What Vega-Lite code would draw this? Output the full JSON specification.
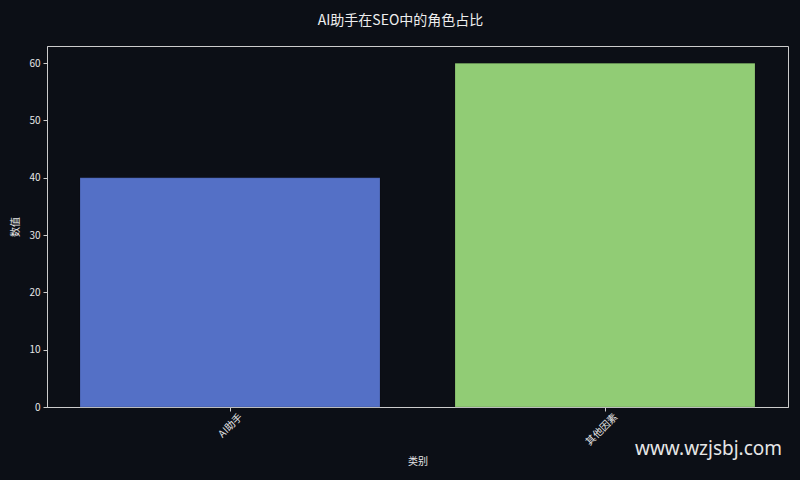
{
  "$schema": "https://vega.github.io/schema/vega-lite/v6.json",
  "autosize": {"type": "none"},
  "padding": {"left": 47, "top": 46, "right": 12, "bottom": 73},
  "width": 741,
  "height": 361,
  "background": "#0c0f16",
  "title": {
    "text": "AI助手在SEO中的角色占比",
    "anchor": "middle",
    "dx": -17,
    "offset": 18,
    "font": "Noto Sans CJK SC",
    "fontSize": 14,
    "fontWeight": "normal",
    "color": "#eeeeee"
  },
  "config": {
    "font": "Noto Sans CJK SC",
    "view": {"stroke": "#cccccc", "strokeWidth": 1},
    "axis": {
      "domainColor": "#cccccc",
      "tickColor": "#cccccc",
      "labelColor": "#e6e6e6",
      "titleColor": "#e6e6e6",
      "labelFontSize": 10,
      "titleFontSize": 10,
      "titleFontWeight": "normal",
      "tickSize": 4,
      "grid": false
    }
  },
  "layer": [
    {
      "data": {
        "values": [
          {"类别": "AI助手", "数值": 40},
          {"类别": "其他因素", "数值": 60}
        ]
      },
      "mark": {"type": "bar", "stroke": "#000000", "strokeOpacity": 0.15, "strokeWidth": 1},
      "encoding": {
        "x": {
          "field": "类别",
          "type": "nominal",
          "sort": null,
          "scale": {"paddingInner": 0.2, "paddingOuter": 0.088},
          "axis": {
            "labelAngle": -45,
            "labelAlign": "right",
            "labelBaseline": "middle",
            "labelOffset": 11,
            "labelPadding": 4,
            "titlePadding": 10
          }
        },
        "y": {
          "field": "数值",
          "type": "quantitative",
          "scale": {"domain": [0, 63], "nice": false},
          "axis": {"values": [0, 10, 20, 30, 40, 50, 60], "labelPadding": 3, "titlePadding": 8}
        },
        "color": {
          "field": "类别",
          "type": "nominal",
          "sort": null,
          "scale": {"range": ["#5470c6", "#91cc75"]},
          "legend": null
        }
      }
    },
    {
      "data": {"values": [{}]},
      "mark": {
        "type": "text",
        "align": "left",
        "baseline": "middle",
        "dx": 30,
        "fontSize": 19,
        "font": "Noto Sans",
        "color": "#e6e6e6",
        "clip": false
      },
      "encoding": {
        "x": {"datum": "其他因素", "type": "nominal"},
        "y": {"datum": -7.3, "type": "quantitative"},
        "text": {"value": "www.wzjsbj.com"}
      }
    }
  ]
}
